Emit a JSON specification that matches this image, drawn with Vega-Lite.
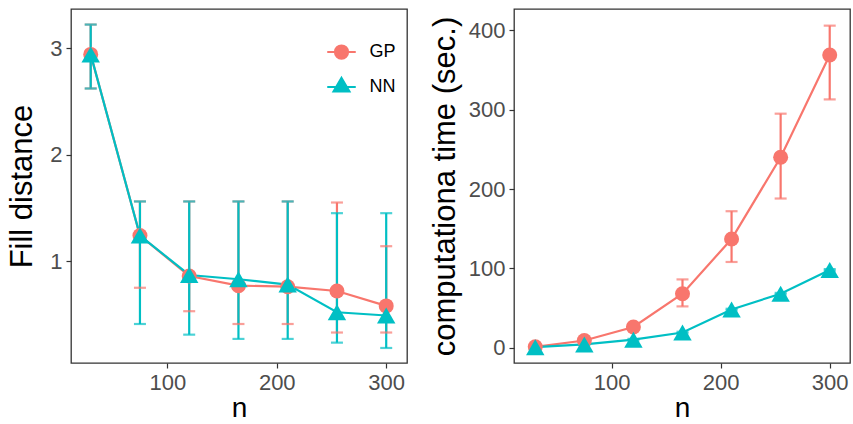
{
  "$schema": "https://vega.github.io/schema/vega-lite/v6.json",
  "background": "white",
  "padding": {"left": 6, "top": 8, "right": 0, "bottom": 0},
  "bounds": "flush",
  "spacing": 107,
  "datasets": {
    "fill": [
      {"method": "GP", "n": 30, "y": 2.94, "lo": 2.62, "hi": 3.22},
      {"method": "GP", "n": 75, "y": 1.24, "lo": 0.75, "hi": 1.56},
      {"method": "GP", "n": 120, "y": 0.86, "lo": 0.53, "hi": 1.56},
      {"method": "GP", "n": 165, "y": 0.77, "lo": 0.41, "hi": 1.56},
      {"method": "GP", "n": 210, "y": 0.76, "lo": 0.41, "hi": 1.56},
      {"method": "GP", "n": 255, "y": 0.72, "lo": 0.33, "hi": 1.55},
      {"method": "GP", "n": 300, "y": 0.58, "lo": 0.33, "hi": 1.14},
      {"method": "NN", "n": 30, "y": 2.94, "lo": 2.62, "hi": 3.22},
      {"method": "NN", "n": 75, "y": 1.24, "lo": 0.41, "hi": 1.56},
      {"method": "NN", "n": 120, "y": 0.87, "lo": 0.31, "hi": 1.56},
      {"method": "NN", "n": 165, "y": 0.83, "lo": 0.27, "hi": 1.56},
      {"method": "NN", "n": 210, "y": 0.78, "lo": 0.27, "hi": 1.56},
      {"method": "NN", "n": 255, "y": 0.52, "lo": 0.235, "hi": 1.45},
      {"method": "NN", "n": 300, "y": 0.49, "lo": 0.185, "hi": 1.45}
    ],
    "time": [
      {"method": "GP", "n": 30, "y": 1, "lo": 0, "hi": 2},
      {"method": "GP", "n": 75, "y": 9, "lo": 7, "hi": 11},
      {"method": "GP", "n": 120, "y": 26, "lo": 23, "hi": 29},
      {"method": "GP", "n": 165, "y": 68, "lo": 52, "hi": 86},
      {"method": "GP", "n": 210, "y": 137, "lo": 108, "hi": 172},
      {"method": "GP", "n": 255, "y": 240, "lo": 188, "hi": 295},
      {"method": "GP", "n": 300, "y": 369, "lo": 313, "hi": 406},
      {"method": "NN", "n": 30, "y": 0.5, "lo": 0, "hi": 1},
      {"method": "NN", "n": 75, "y": 4, "lo": 3, "hi": 5},
      {"method": "NN", "n": 120, "y": 10, "lo": 9, "hi": 11},
      {"method": "NN", "n": 165, "y": 19, "lo": 18, "hi": 20},
      {"method": "NN", "n": 210, "y": 48, "lo": 47, "hi": 49},
      {"method": "NN", "n": 255, "y": 68, "lo": 67, "hi": 69},
      {"method": "NN", "n": 300, "y": 98, "lo": 97, "hi": 99}
    ]
  },
  "config": {
    "view": {"stroke": "#333333", "strokeWidth": 1.3},
    "axis": {
      "grid": false,
      "domain": false,
      "tickColor": "#333333",
      "tickSize": 5,
      "tickWidth": 1.2,
      "labelColor": "#4D4D4D",
      "labelFont": "Liberation Sans",
      "labelFontSize": 22,
      "labelPadding": 4,
      "titleFont": "Liberation Sans",
      "titleFontSize": 31,
      "titleFontWeight": "normal",
      "titleColor": "black"
    },
    "axisX": {"titleFontSize": 28, "titlePadding": 1},
    "legend": {
      "title": null,
      "orient": "none",
      "labelFont": "Liberation Sans",
      "labelFontSize": 18,
      "labelColor": "black",
      "symbolSize": 225,
      "labelOffset": 19,
      "rowPadding": 10,
      "padding": 0
    }
  },
  "hconcat": [
    {
      "width": 336,
      "height": 354,
      "data": {"name": "fill"},
      "encoding": {
        "x": {"field": "n", "type": "quantitative", "title": "n",
              "scale": {"domain": [12, 319], "nice": false, "zero": false},
              "axis": {"values": [100, 200, 300], "titlePadding": 1, "titleFontSize": 28}},
        "color": {"field": "method", "type": "nominal",
                  "scale": {"domain": ["GP", "NN"], "range": ["#F8766D", "#00BFC4"]},
                  "legend": {
                    "legendX": 261.5, "legendY": 34, "labelFontSize": 18, "rowPadding": 10,
                    "encode": {"symbols": {"update": {
                      "shape": {"signal": "datum.value === 'GP' ? 'M-1.9,0L1.9,0M0.87,0A0.87,0.87,0,1,1,-0.87,0A0.87,0.87,0,1,1,0.87,0Z' : 'M-1.9,0L1.9,0M0,-1.2L1.05,0.6L-1.05,0.6Z'"},
                      "fill": {"signal": "datum.value === 'GP' ? '#F8766D' : '#00BFC4'"},
                      "stroke": {"signal": "datum.value === 'GP' ? '#F8766D' : '#00BFC4'"},
                      "strokeWidth": {"value": 2.2},
                      "opacity": {"value": 1}
                    }}}
                  }}
      },
      "layer": [
        {
          "mark": {"type": "rule", "strokeWidth": 2.2},
          "encoding": {
            "y": {"field": "lo", "type": "quantitative", "title": "Fill distance",
                  "scale": {"domain": [0.044, 3.366], "nice": false, "zero": false},
                  "axis": {"values": [1, 2, 3], "format": "d", "titlePadding": 11}},
            "y2": {"field": "hi"}
          }
        },
        {
          "mark": {"type": "tick", "orient": "horizontal", "size": 12, "thickness": 2.2},
          "encoding": {"y": {"field": "lo", "type": "quantitative", "title": "Fill distance"}}
        },
        {
          "mark": {"type": "tick", "orient": "horizontal", "size": 12, "thickness": 2.2},
          "encoding": {"y": {"field": "hi", "type": "quantitative", "title": "Fill distance"}}
        },
        {
          "mark": {"type": "line", "strokeWidth": 2.2},
          "encoding": {"y": {"field": "y", "type": "quantitative", "title": "Fill distance"}}
        },
        {
          "transform": [{"filter": "datum.method === 'GP'"}],
          "mark": {"type": "point", "filled": true, "opacity": 1, "shape": "circle", "size": 225},
          "encoding": {"y": {"field": "y", "type": "quantitative", "title": "Fill distance"}}
        },
        {
          "transform": [{"filter": "datum.method === 'NN'"}],
          "mark": {"type": "point", "filled": true, "opacity": 1, "shape": "triangle-up", "size": 340},
          "encoding": {"y": {"field": "y", "type": "quantitative", "title": "Fill distance"}}
        }
      ]
    },
    {
      "width": 336,
      "height": 354,
      "data": {"name": "time"},
      "encoding": {
        "x": {"field": "n", "type": "quantitative", "title": "n",
              "scale": {"domain": [10.5, 318.6], "nice": false, "zero": false},
              "axis": {"values": [100, 200, 300], "titlePadding": 1, "titleFontSize": 28}},
        "color": {"field": "method", "type": "nominal",
                  "scale": {"domain": ["GP", "NN"], "range": ["#F8766D", "#00BFC4"]},
                  "legend": {
                    "legendX": 24.5, "legendY": 34, "labelFontSize": 18, "rowPadding": 10,
                    "encode": {"symbols": {"update": {
                      "shape": {"signal": "datum.value === 'GP' ? 'M-1.9,0L1.9,0M0.87,0A0.87,0.87,0,1,1,-0.87,0A0.87,0.87,0,1,1,0.87,0Z' : 'M-1.9,0L1.9,0M0,-1.2L1.05,0.6L-1.05,0.6Z'"},
                      "fill": {"signal": "datum.value === 'GP' ? '#F8766D' : '#00BFC4'"},
                      "stroke": {"signal": "datum.value === 'GP' ? '#F8766D' : '#00BFC4'"},
                      "strokeWidth": {"value": 2.2},
                      "opacity": {"value": 1}
                    }}}
                  }}
      },
      "layer": [
        {
          "mark": {"type": "rule", "strokeWidth": 2.2},
          "encoding": {
            "y": {"field": "lo", "type": "quantitative", "title": "computationa time (sec.)",
                  "scale": {"domain": [-19.4, 427], "nice": false, "zero": false},
                  "axis": {"values": [0, 100, 200, 300, 400], "titlePadding": 7}},
            "y2": {"field": "hi"}
          }
        },
        {
          "mark": {"type": "tick", "orient": "horizontal", "size": 12, "thickness": 2.2},
          "encoding": {"y": {"field": "lo", "type": "quantitative", "title": "computationa time (sec.)"}}
        },
        {
          "mark": {"type": "tick", "orient": "horizontal", "size": 12, "thickness": 2.2},
          "encoding": {"y": {"field": "hi", "type": "quantitative", "title": "computationa time (sec.)"}}
        },
        {
          "mark": {"type": "line", "strokeWidth": 2.2},
          "encoding": {"y": {"field": "y", "type": "quantitative", "title": "computationa time (sec.)"}}
        },
        {
          "transform": [{"filter": "datum.method === 'GP'"}],
          "mark": {"type": "point", "filled": true, "opacity": 1, "shape": "circle", "size": 225},
          "encoding": {"y": {"field": "y", "type": "quantitative", "title": "computationa time (sec.)"}}
        },
        {
          "transform": [{"filter": "datum.method === 'NN'"}],
          "mark": {"type": "point", "filled": true, "opacity": 1, "shape": "triangle-up", "size": 340},
          "encoding": {"y": {"field": "y", "type": "quantitative", "title": "computationa time (sec.)"}}
        }
      ]
    }
  ]
}
